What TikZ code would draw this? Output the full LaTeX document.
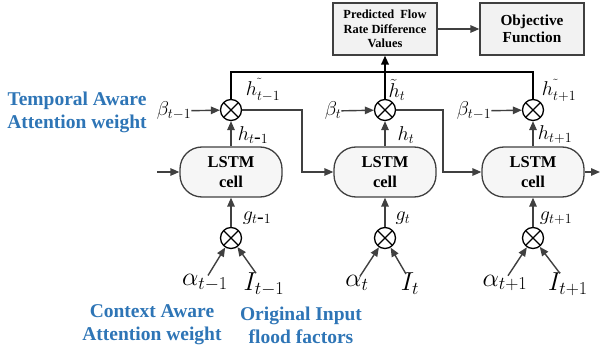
\RequirePackage{fix-cm}
\documentclass[tikz,border=0pt]{standalone}
\usepackage{fontspec}
\setmainfont{Liberation Serif}
\usetikzlibrary{arrows.meta}
\definecolor{blu}{RGB}{46,117,182}
\definecolor{ln}{RGB}{64,64,64}
\tikzset{
  tip/.style={-{Triangle[length=9pt,width=7.5pt]}},
  arr/.style={draw=ln, line width=1.4pt, tip},
  bus/.style={draw=black, line width=2pt},
  mult/.style={circle, draw=black, line width=1.3pt, minimum size=21pt, inner sep=0pt, fill=white,
    path picture={\draw[line width=1.3pt] (path picture bounding box.north west) -- (path picture bounding box.south east)
      (path picture bounding box.north east) -- (path picture bounding box.south west);}},
  cellbox/.style={rectangle, rounded corners=22pt, draw=ln, line width=1.3pt, fill=gray!7,
    minimum width=102pt, minimum height=50pt, align=center, inner sep=0pt,
    font=\bfseries\fontsize{16.5}{20}\selectfont},
  outbox/.style={rectangle, draw=ln, line width=1.3pt, fill=gray!10, minimum width=104pt,
    minimum height=52pt, align=center, inner sep=0pt},
  lbl/.style={font=\fontsize{20}{22}\selectfont, inner sep=0pt},
  big/.style={font=\fontsize{26}{28}\selectfont, inner sep=0pt},
  note/.style={text=blu, font=\bfseries\fontsize{19.5}{23}\selectfont, align=center, inner sep=0pt}
}
\begin{document}
\begin{tikzpicture}[x=1pt,y=-1pt]
\useasboundingbox (0,0) rectangle (600,350);

% top boxes
\node[outbox, font=\bfseries\fontsize{12.4}{14.5}\selectfont] (pred) at (385,29) {Predicted\ \ Flow\\Rate Difference\\Values};
\node[outbox, font=\bfseries\fontsize{15.3}{17}\selectfont] (obj) at (532,29) {Objective\\Function};
\draw[arr] (pred) -- (obj);

% multipliers (top)
\node[mult] (m1) at (231,110) {};
\node[mult] (m2) at (385,110) {};
\node[mult] (m3) at (533,110) {};

% LSTM cells
\node[cellbox] (c1) at (231,172) {LSTM\\cell};
\node[cellbox] (c2) at (385,172) {LSTM\\cell};
\node[cellbox] (c3) at (533,172) {LSTM\\cell};

% multipliers (bottom)
\node[mult] (b1) at (231,238) {};
\node[mult] (b2) at (385,238) {};
\node[mult] (b3) at (533,238) {};

% beta labels
\node[lbl] (be1) at (174,111) {$\beta_{t-1}$};
\node[lbl] (be2) at (333,111) {$\beta_{t}$};
\node[lbl] (be3) at (474,111) {$\beta_{t-1}$};
\draw[arr] (be1) -- (m1);
\draw[arr] (be2) -- (m2);
\draw[arr] (be3) -- (m3);

% h tilde labels
\node[lbl] (ht1) at (263,90) {$h^{\,\tilde{}}_{t-1}$};
\node[lbl] (ht2) at (397,90) {$\tilde{h}_{t}$};
\node[lbl] (ht3) at (559,90) {$h^{\,\tilde{}}_{t+1}$};

% h labels
\node[lbl] (h1) at (253,135) {$h_{t\mbox{-}1}$};
\node[lbl] (h2) at (406,135) {$h_{t}$};
\node[lbl] (h3) at (555,135) {$h_{t+1}$};

% g labels
\node[lbl] (g1) at (257,218) {$g_{t\mbox{-}1}$};
\node[lbl] (g2) at (403,218) {$g_{t}$};
\node[lbl] (g3) at (556,218) {$g_{t+1}$};

% alpha and I
\node[big] (a1) at (205,283) {$\alpha_{t-1}$};
\node[big] (i1) at (264,284) {$I_{t-1}$};
\node[big] (a2) at (357,283) {$\alpha_{t}$};
\node[big] (i2) at (410,284) {$I_{t}$};
\node[big] (a3) at (505,283) {$\alpha_{t+1}$};
\node[big] (i3) at (568,284) {$I_{t+1}$};

% bus
\coordinate (bl) at (231,72);
\coordinate (br) at (533,72);
\draw[bus] (m1) -- (bl) -- (br) -- (m3);
\draw[bus, tip] (m2) -- (pred);

% cell -> multiplier
\draw[arr] (c1) -- (m1);
\draw[arr] (c2) -- (m2);
\draw[arr] (c3) -- (m3);
\draw[arr] (b1) -- (c1);
\draw[arr] (b2) -- (c2);
\draw[arr] (b3) -- (c3);

% recurrent connections
\coordinate (in) at (157,172);
\coordinate (out) at (600,172);
\coordinate (k1) at (302,110);
\coordinate (k2) at (443,110);
\draw[arr] (in) -- (c1);
\draw[arr] (m1) -- (k1) |- (c2);
\draw[arr] (m2) -- (k2) |- (c3);
\draw[arr] (c3) -- (out);

% inputs
\draw[arr] ([xshift=3pt,yshift=-1pt]a1.north) -- (b1);
\draw[arr] ([xshift=-8pt,yshift=-1pt]i1.north) -- (b1);
\draw[arr] ([xshift=3pt,yshift=-1pt]a2.north) -- (b2);
\draw[arr] ([xshift=-4pt,yshift=-1pt]i2.north) -- (b2);
\draw[arr] ([xshift=3pt,yshift=-1pt]a3.north) -- (b3);
\draw[arr] ([xshift=-8pt,yshift=-1pt]i3.north) -- (b3);

% blue notes
\node[note] (tn) at (77,112) {Temporal Aware\\Attention weight};
\node[note] (cn) at (152,325) {Context Aware\\Attention weight};
\node[note] (on) at (301,325) {Original Input\\flood factors};
\end{tikzpicture}
\end{document}
